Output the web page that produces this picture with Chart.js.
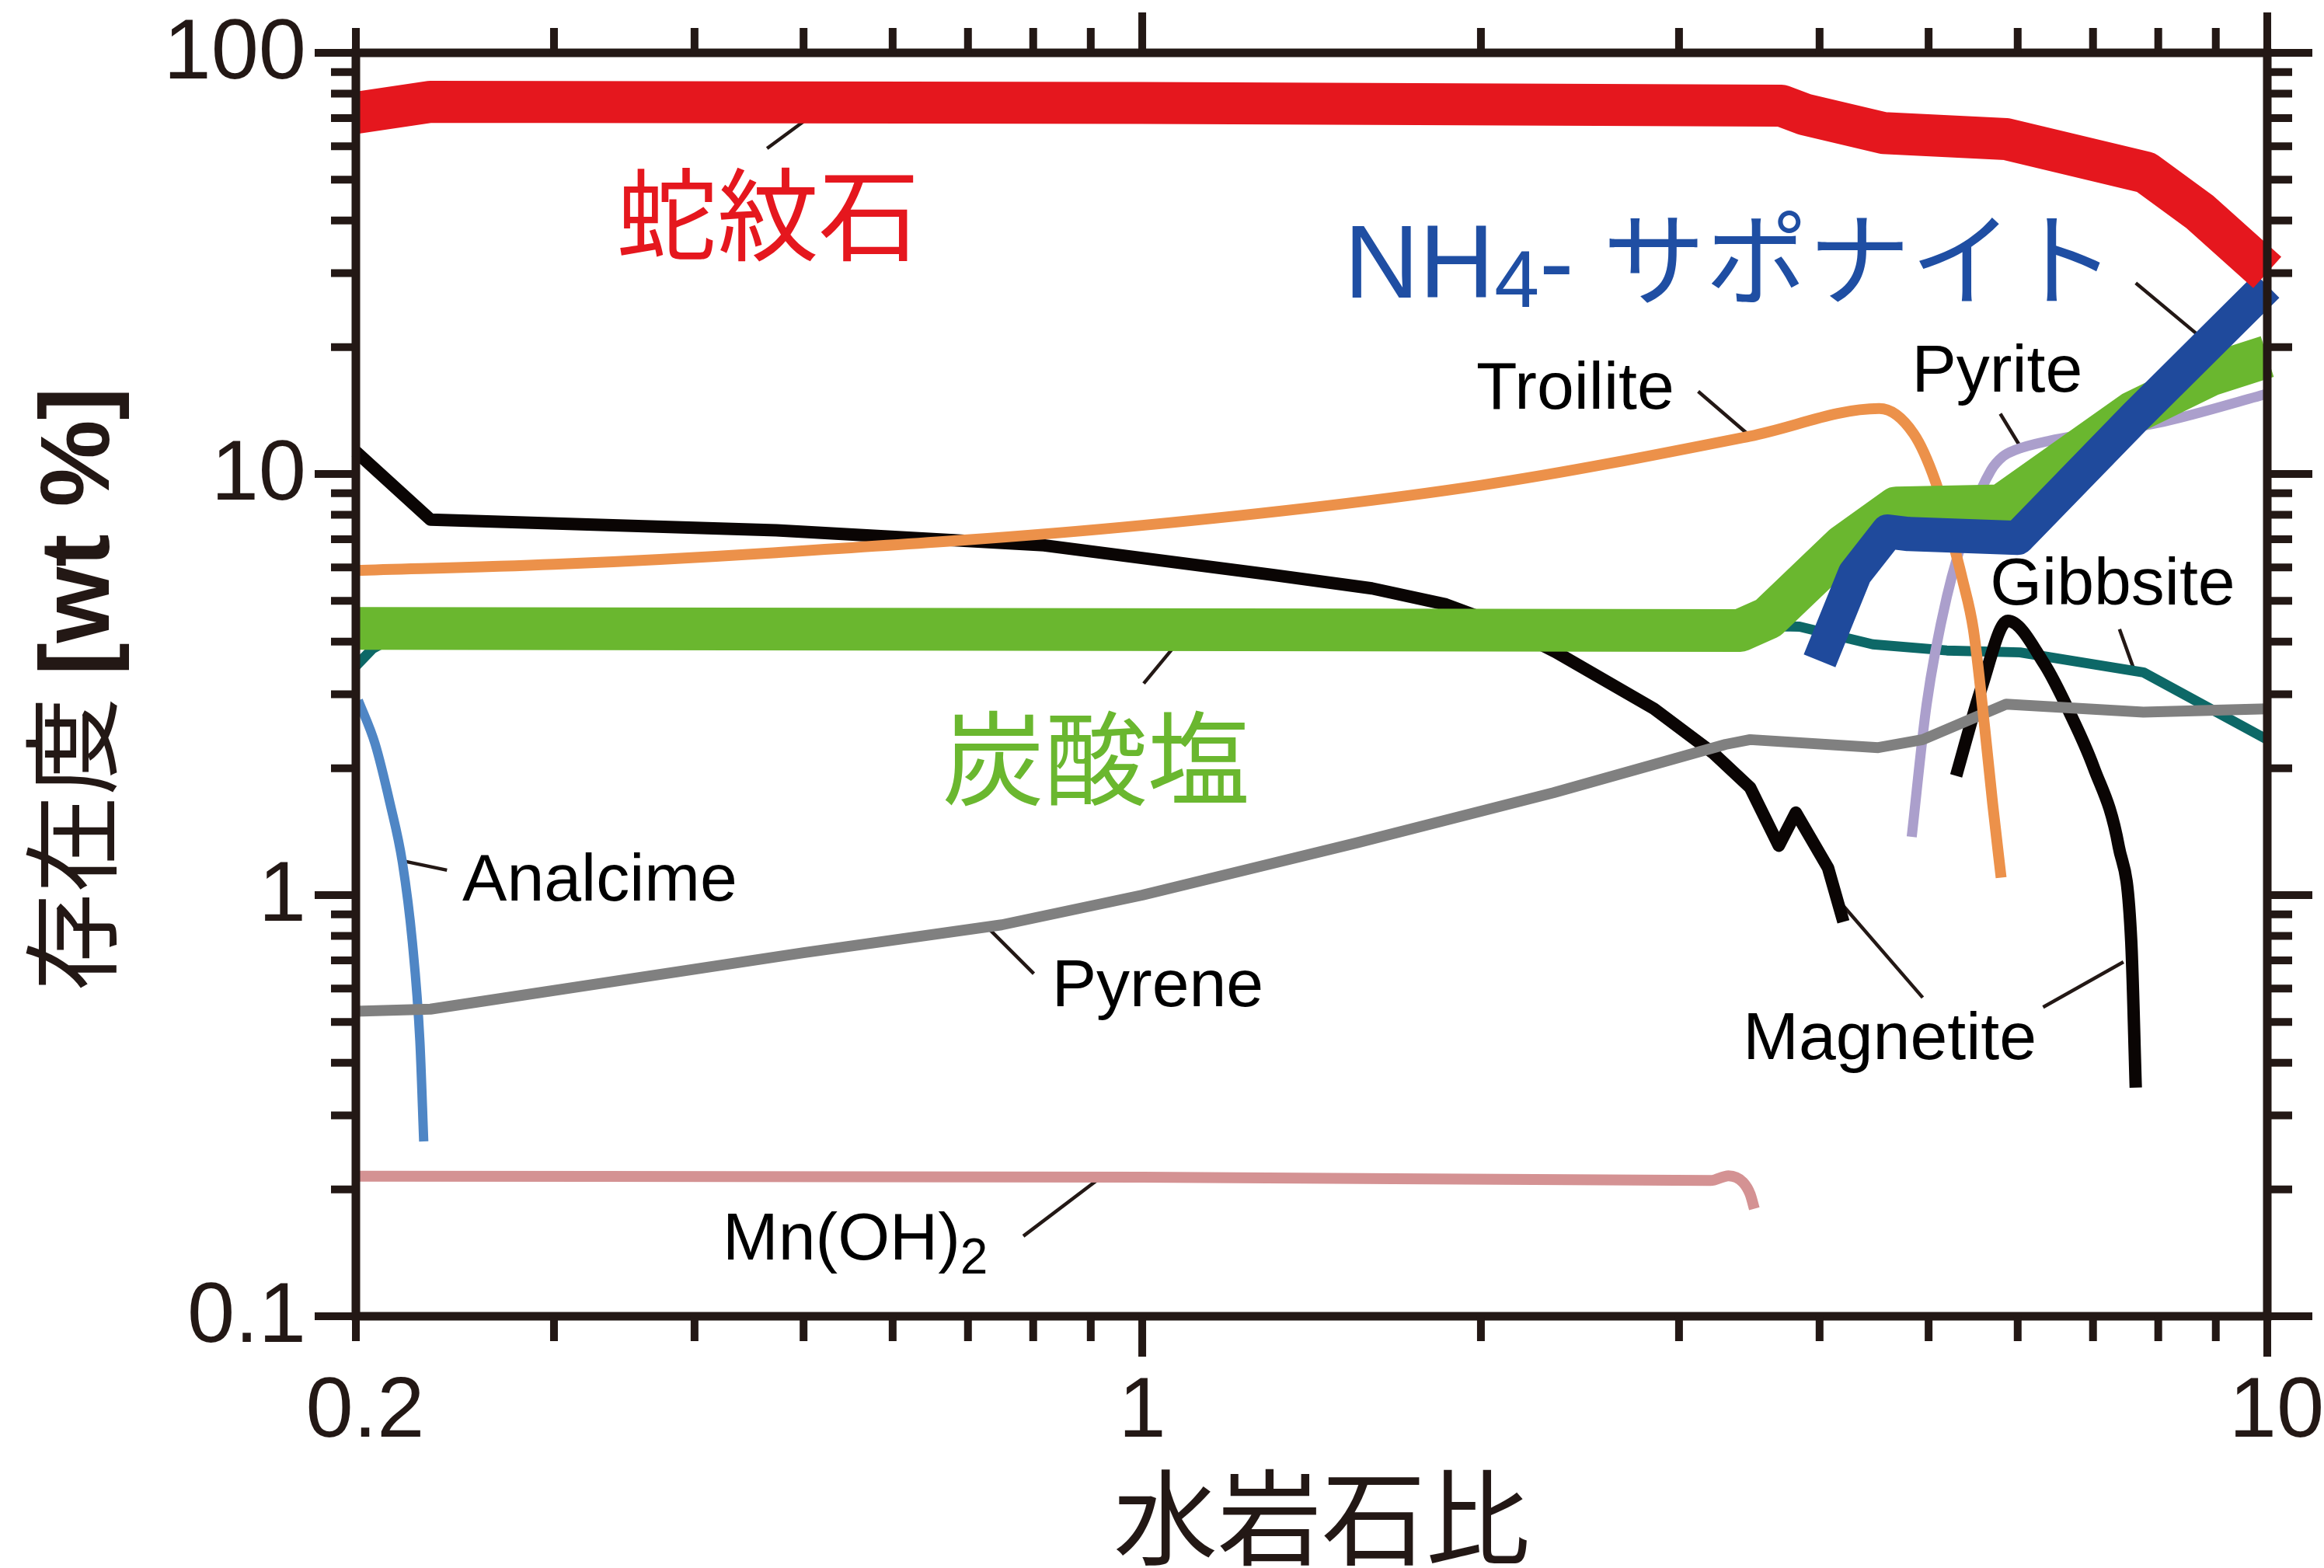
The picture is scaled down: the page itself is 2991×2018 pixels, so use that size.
<!DOCTYPE html>
<html>
<head>
<meta charset="utf-8">
<title>水岩石比と鉱物存在度</title>
<script src="https://cdn.jsdelivr.net/npm/chart.js@4.4.0/dist/chart.umd.min.js"></script>
<style>
html, body { margin: 0; padding: 0; background: #ffffff; }
canvas { display: block; }
</style>
</head>
<body>
<canvas id="chart" width="2991" height="2018"></canvas>
<script>
// 各鉱物の存在度 (x: 水岩石比, y: wt%)
const serpentineX = [0.2, 0.233, 1.0, 3.7, 3.88, 4.56, 5.86, 7.8, 8.7, 10];
const serpentineY = [72, 76.5, 76, 74.9, 71.4, 64.5, 62.4, 52.0, 42.0, 30.1];

const saponiteX = [4.0, 4.3, 4.6, 4.8, 6.0, 7.64, 10];
const saponiteY = [3.6, 5.8, 7.3, 7.2, 7.05, 13.7, 28.0];

const carbonateX = [0.2, 3.4, 3.6, 4.2, 4.68, 5.8, 7.6, 8.9, 10];
const carbonateY = [4.3, 4.25, 4.55, 6.75, 8.3, 8.4, 14.0, 17.2, 19.0];

const troiliteX = [0.2, 0.3, 0.47, 1.0, 2.0, 3.47, 4.52, 4.85, 5.07, 5.22, 5.36, 5.48, 5.61, 5.70, 5.80];
const troiliteY = [5.9, 6.1, 6.5, 7.55, 9.4, 12.3, 14.3, 12.45, 9.6, 7.35, 5.6, 4.27, 2.48, 1.65, 1.1];

const magnetiteAX = [0.2, 0.233, 0.473, 0.818, 1.306, 1.6, 1.862, 2.1, 2.33, 2.85, 3.22, 3.47, 3.68, 3.81, 4.07, 4.2];
const magnetiteAY = [11.3, 7.79, 7.35, 6.77, 5.76, 5.35, 4.90, 4.35, 3.78, 2.77, 2.17, 1.80, 1.31, 1.57, 1.16, 0.864];
const magnetiteBX = [5.29, 5.57, 5.88, 6.34, 6.67, 7.01, 7.38, 7.57, 7.64];
const magnetiteBY = [1.92, 3.10, 4.48, 3.53, 2.72, 2.01, 1.30, 0.775, 0.349];

const gibbsiteX = [0.2, 0.207, 0.22, 3.7, 3.84, 4.46, 5.19, 6.03, 7.76, 10];
const gibbsiteY = [3.5, 3.85, 4.2, 4.35, 4.34, 3.94, 3.81, 3.77, 3.38, 2.34];

const pyriteX = [4.83, 4.98, 5.19, 5.46, 5.68, 5.82, 5.97, 6.41, 8.08, 10];
const pyriteY = [1.375, 2.84, 5.11, 8.05, 10.2, 11.0, 11.4, 12.0, 13.3, 15.5];

const pyreneX = [0.2, 0.233, 0.5, 0.75, 1.0, 1.55, 2.32, 3.3, 3.47, 4.51, 4.94, 5.86, 7.76, 10];
const pyreneY = [0.53, 0.536, 0.73, 0.85, 1.0, 1.33, 1.75, 2.28, 2.34, 2.24, 2.34, 2.84, 2.72, 2.77];

const analcimeX = [0.201, 0.208, 0.2145, 0.22, 0.2245, 0.228, 0.2298];
const analcimeY = [2.9, 2.29, 1.65, 1.195, 0.775, 0.45, 0.26];

const mnX = [0.2, 1.0, 3.2, 3.32, 3.42, 3.47, 3.5];
const mnY = [0.215, 0.214, 0.21, 0.2155, 0.208, 0.195, 0.18];

// 軸の目盛り
const xTickValues = [0.2, 1, 10];
const xTickLabels = ['0.2', '1', '10'];
const xMajorTicks = [1, 10];
const yTickValues = [0.1, 1, 10, 100];
const yTickLabels = ['0.1', '1', '10', '100'];
const minorSteps = [2, 3, 4, 5, 6, 7, 8, 9];

const frameColor = '#231815';
const latin = '"Liberation Sans", Arial, Helvetica, sans-serif';
const cjk = '"Noto Sans CJK JP", "Noto Sans CJK SC", sans-serif';

// 注記 (データ座標)
const labelNotes = [
    { parts: [{ t: '蛇紋石', font: '130px ' + cjk }], x: 0.341, y: 33.6, color: '#e5171e' },
    { parts: [{ t: 'NH', font: '134px ' + latin }, { t: '4', font: '104px ' + latin, dy: 12 },
              { t: '- ', font: '134px ' + latin }, { t: 'サポナイト', font: '132px ' + cjk }],
      x: 1.511, y: 26.2, color: '#1f4ea3' },
    { parts: [{ t: '炭酸塩', font: '132px ' + cjk }], x: 0.664, y: 1.708, color: '#6ab72f' },
    { parts: [{ t: 'Troilite', font: '86px ' + latin }], x: 1.981, y: 14.29, color: '#000000' },
    { parts: [{ t: 'Pyrite', font: '86px ' + latin }], x: 4.83, y: 15.69, color: '#000000' },
    { parts: [{ t: 'Gibbsite', font: '86px ' + latin }], x: 5.67, y: 4.90, color: '#000000' },
    { parts: [{ t: 'Magnetite', font: '86px ' + latin }], x: 3.42, y: 0.408, color: '#000000' },
    { parts: [{ t: 'Pyrene', font: '86px ' + latin }], x: 0.831, y: 0.545, color: '#000000' },
    { parts: [{ t: 'Analcime', font: '86px ' + latin }], x: 0.2487, y: 0.971, color: '#000000' },
    { parts: [{ t: 'Mn(OH)', font: '86px ' + latin }, { t: '2', font: '64px ' + latin, dy: 18 }],
      x: 0.4237, y: 0.1364, color: '#000000' }
];

// 引き出し線 [x1, y1, x2, y2]
const leaderLines = [
    [0.464, 59.3, 0.527, 76.2],
    [1.003, 3.18, 1.098, 4.26],
    [7.64, 28.4, 8.75, 21.0],
    [3.12, 15.7, 3.47, 12.3],
    [5.79, 13.9, 6.07, 11.3],
    [7.39, 4.28, 7.64, 3.34],
    [4.94, 0.571, 4.16, 0.971],
    [6.32, 0.542, 7.45, 0.694],
    [0.729, 0.837, 0.801, 0.651],
    [0.22, 1.206, 0.241, 1.146],
    [0.784, 0.155, 0.913, 0.211]
];

function pts(xs, ys) {
    return xs.map((x, i) => ({ x: x, y: ys[i] }));
}

function series(label, xs, ys, color, width, order, smooth) {
    return {
        label: label,
        data: pts(xs, ys),
        borderColor: color,
        borderWidth: width,
        pointRadius: 0,
        tension: smooth ? 0.4 : 0,
        cubicInterpolationMode: smooth ? 'monotone' : 'default',
        fill: false,
        borderJoinStyle: 'round',
        borderCapStyle: 'butt',
        clip: false,
        order: order
    };
}

// 引き出し線 (データの下に描く)
const leaderPlugin = {
    id: 'leaders',
    beforeDatasetsDraw(chart) {
        const { ctx, scales: { x, y } } = chart;
        ctx.save();
        ctx.strokeStyle = frameColor;
        ctx.lineWidth = 4.5;
        leaderLines.forEach(l => {
            ctx.beginPath();
            ctx.moveTo(x.getPixelForValue(l[0]), y.getPixelForValue(l[1]));
            ctx.lineTo(x.getPixelForValue(l[2]), y.getPixelForValue(l[3]));
            ctx.stroke();
        });
        ctx.restore();
    }
};

// 枠・目盛り・ラベル
const framePlugin = {
    id: 'frame',
    afterDraw(chart) {
        const { ctx, chartArea: a, scales: { x, y } } = chart;
        ctx.save();

        // 注記
        ctx.textBaseline = 'alphabetic';
        ctx.textAlign = 'left';
        labelNotes.forEach(n => {
            let px = x.getPixelForValue(n.x);
            const py = y.getPixelForValue(n.y);
            ctx.fillStyle = n.color;
            n.parts.forEach(p => {
                ctx.font = p.font;
                ctx.fillText(p.t, px, py + (p.dy || 0));
                px += ctx.measureText(p.t).width;
            });
        });

        // 枠
        ctx.strokeStyle = frameColor;
        ctx.lineWidth = 11;
        ctx.strokeRect(a.left, a.top, a.right - a.left, a.bottom - a.top);

        // 目盛り
        ctx.lineWidth = 10;
        const xTicks = [];
        [0.1, 1].forEach(d => minorSteps.forEach(m => xTicks.push(m * d)));
        xTicks.push(1, 10);
        xTicks.filter(v => v >= 0.2 && v <= 10).forEach(v => {
            const px = x.getPixelForValue(v);
            const len = xMajorTicks.includes(v) ? 52 : 32;
            ctx.beginPath();
            ctx.moveTo(px, a.bottom); ctx.lineTo(px, a.bottom + len);
            ctx.moveTo(px, a.top); ctx.lineTo(px, a.top - len);
            ctx.stroke();
        });
        const yTicks = [];
        [0.1, 1, 10].forEach(d => minorSteps.forEach(m => yTicks.push(m * d)));
        yTicks.filter(v => v <= 100).forEach(v => {
            const py = y.getPixelForValue(v);
            ctx.beginPath();
            ctx.moveTo(a.left, py); ctx.lineTo(a.left - 32, py);
            ctx.moveTo(a.right, py); ctx.lineTo(a.right + 32, py);
            ctx.stroke();
        });
        yTickValues.forEach(v => {
            const py = y.getPixelForValue(v);
            ctx.beginPath();
            ctx.moveTo(a.left, py); ctx.lineTo(a.left - 53, py);
            ctx.moveTo(a.right, py); ctx.lineTo(a.right + 58, py);
            ctx.stroke();
        });

        // 目盛りラベル
        ctx.fillStyle = frameColor;
        ctx.font = '110px ' + latin;
        ctx.textAlign = 'right';
        yTickValues.forEach((v, i) => {
            ctx.fillText(yTickLabels[i], a.left - 64, y.getPixelForValue(v) + 33);
        });
        ctx.textAlign = 'center';
        xTickValues.forEach((v, i) => {
            ctx.fillText(xTickLabels[i], x.getPixelForValue(v) + (i === 1 ? 0 : 12), a.bottom + 155);
        });

        // 軸タイトル
        ctx.font = '134px ' + cjk;
        ctx.fillText('水岩石比', (a.left + a.right) / 2 + 13, a.bottom + 310);

        ctx.translate(140, (a.top + a.bottom) / 2 + 6);
        ctx.rotate(-Math.PI / 2);
        ctx.textAlign = 'left';
        const t1 = '存在度 ';
        const t2 = '[wt %]';
        ctx.font = '126px ' + cjk;
        const w1 = ctx.measureText(t1).width;
        ctx.font = 'bold 126px ' + latin;
        const w2 = ctx.measureText(t2).width;
        const start = -(w1 + w2) / 2;
        ctx.font = '126px ' + cjk;
        ctx.fillText(t1, start, 0);
        ctx.font = 'bold 126px ' + latin;
        ctx.fillText(t2, start + w1, 0);
        ctx.restore();
    }
};

new Chart(document.getElementById('chart').getContext('2d'), {
    type: 'line',
    data: {
        datasets: [
            series('蛇紋石', serpentineX, serpentineY, '#e5171e', 54, 0, false),
            series('NH4-サポナイト', saponiteX, saponiteY, '#1f4a9c', 44, 1, false),
            series('炭酸塩', carbonateX, carbonateY, '#6ab72f', 55, 2, false),
            series('Troilite', troiliteX, troiliteY, '#ec914a', 14, 3, true),
            series('Pyrene', pyreneX, pyreneY, '#808080', 14, 4, false),
            series('Magnetite', magnetiteAX, magnetiteAY, '#0a0504', 16, 5, false),
            series('Magnetite', magnetiteBX, magnetiteBY, '#0a0504', 16, 5, true),
            series('Pyrite', pyriteX, pyriteY, '#ab9fcc', 13, 6, true),
            series('Gibbsite', gibbsiteX, gibbsiteY, '#0d6867', 13, 7, false),
            series('Analcime', analcimeX, analcimeY, '#4f86c5', 12, 8, true),
            series('Mn(OH)2', mnX, mnY, '#d49293', 14, 9, true)
        ]
    },
    options: {
        responsive: false,
        animation: false,
        devicePixelRatio: 1,
        layout: { padding: { left: 458, right: 73, top: 68, bottom: 324 } },
        plugins: { legend: { display: false }, tooltip: { enabled: false } },
        scales: {
            x: { type: 'logarithmic', min: 0.2, max: 10, display: false },
            y: { type: 'logarithmic', min: 0.1, max: 100, display: false }
        }
    },
    plugins: [leaderPlugin, framePlugin]
});
</script>
</body>
</html>
